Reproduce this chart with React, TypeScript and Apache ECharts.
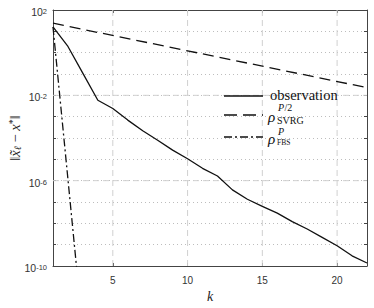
import React, { useEffect, useRef } from "react";
import * as echarts from "echarts";

// iteration index k
const kValues = [1, 2, 3, 4, 5, 6, 7, 8, 9, 10, 11, 12, 13, 14, 15, 16, 17, 18, 19, 20, 21, 22];
// observed error ||x~_l - x*||
const observation = [
  16, 1.95, 0.107, 5.9e-3, 2.4e-3, 6.9e-4, 2.2e-4, 7.9e-5, 2.7e-5, 1.07e-5, 3.8e-6,
  1.66e-6, 3.7e-7, 1.35e-7, 6.2e-8, 3.0e-8, 1.2e-8, 5.4e-9, 2.2e-9, 8.9e-10, 3.0e-10, 1.38e-10,
];
// rho_SVRG^{P/2} bound (straight on log scale)
const svrgK = [1, 22];
const svrgValues = [24, 0.023];
// rho_FBS^P bound
const fbsK = [1, 2, 3];
const fbsValues = [16, 1.15e-6, 8e-14];

const xTicks = [5, 10, 15, 20];
const yLabelExponents = [-10, -6, -2, 2];
const yMinExp = -10;
const yMaxExp = 2;
const kMin = 1;
const kMax = 22;

const toPairs = (ks: number[], vs: number[]) => ks.map((k, i) => [k, Math.log10(vs[i])]);

export default function App() {
  const ref = useRef<HTMLDivElement>(null);
  useEffect(() => {
    if (!ref.current) return;
    const chart = echarts.init(ref.current, undefined, { renderer: "svg" });
    const axisColor = "#444";
    const serif = "Liberation Serif";
    const majorGrid = { color: "#d0d0d0", width: 1, type: [6, 4] as number[] };
    const gridSeries: any[] = [
      ...xTicks.map((x) => ({
        type: "line",
        data: [[x, yMinExp], [x, yMaxExp]],
        symbol: "none",
        silent: true,
        z: 1,
        lineStyle: majorGrid,
      })),
      ...yLabelExponents
        .filter((e) => e > yMinExp && e < yMaxExp)
        .map((e) => ({
          type: "line",
          data: [[kMin, e], [kMax, e]],
          symbol: "none",
          silent: true,
          z: 1,
          lineStyle: majorGrid,
        })),
    ];
    const axisLine = { show: true, onZero: false, lineStyle: { color: axisColor, width: 1 } };
    const option: any = {
      animation: false,
      backgroundColor: "#fff",
      grid: { left: 53, right: 7, top: 10, bottom: 42, containLabel: false, outerBoundsMode: "none" },
      xAxis: [
        {
          type: "value",
          min: kMin,
          max: kMax,
          position: "bottom",
          axisLine,
          axisTick: { show: true, inside: true, length: 3, customValues: xTicks, lineStyle: { color: axisColor } },
          axisLabel: { customValues: xTicks, color: "#333", fontSize: 10, fontFamily: "Liberation Sans", margin: 9 },
          splitLine: { show: false },
          name: "k",
          nameLocation: "middle",
          nameGap: 13,
          nameTextStyle: { fontFamily: serif, fontStyle: "italic", fontSize: 14, color: "#222" },
        },
        {
          type: "value",
          min: kMin,
          max: kMax,
          position: "top",
          axisLine,
          axisTick: { show: true, inside: true, length: 3, customValues: xTicks, lineStyle: { color: axisColor } },
          axisLabel: { show: false },
          splitLine: { show: false },
        },
      ],
      yAxis: [
        {
          type: "value",
          min: yMinExp,
          max: yMaxExp,
          interval: 1,
          position: "left",
          axisLine,
          axisTick: { show: true, inside: true, length: 3, lineStyle: { color: axisColor } },
          axisLabel: {
            margin: 6,
            padding: [5, 0, 0, 0],
            formatter: (v: number) =>
              yLabelExponents.indexOf(v) >= 0 ? `{b|10}{s|${v}}` : "",
            rich: {
              b: { fontSize: 10.5, lineHeight: 10, fontFamily: "Liberation Sans", color: "#333", verticalAlign: "bottom", padding: [3, 0, 0, 0] },
              s: { fontSize: 7.5, lineHeight: 7, fontFamily: "Liberation Sans", color: "#333", verticalAlign: "top" },
            },
          },
          splitLine: { show: true, lineStyle: { color: "#bdbdbd", type: [1, 3], width: 1 } },
          name: "{n|‖}{i|x̃}{sb|ℓ}{n| − }{i|x}{sp|*}{n|‖}",
          nameLocation: "middle",
          nameRotate: 90,
          nameGap: 31,
          nameMoveOverlap: false,
          nameTextStyle: {
            rich: {
              n: { fontFamily: serif, fontSize: 14.5, lineHeight: 15, color: "#222", verticalAlign: "bottom" },
              i: { fontFamily: serif, fontStyle: "italic", fontSize: 14.5, lineHeight: 15, color: "#222", verticalAlign: "bottom" },
              sb: { fontFamily: serif, fontStyle: "italic", fontSize: 10, lineHeight: 10, color: "#222", verticalAlign: "bottom" },
              sp: { fontFamily: serif, fontSize: 10, lineHeight: 10, color: "#222", verticalAlign: "top" },
            },
          },
        },
        {
          type: "value",
          min: yMinExp,
          max: yMaxExp,
          interval: 1,
          position: "right",
          axisLine,
          axisTick: { show: true, inside: true, length: 3, lineStyle: { color: axisColor } },
          axisLabel: { show: false },
          splitLine: { show: false },
        },
      ],
      series: [
        ...gridSeries,
        {
          name: "observation",
          type: "line",
          data: toPairs(kValues, observation),
          showSymbol: false,
          symbol: "none",
          z: 4,
          lineStyle: { color: "#111", width: 1.3 },
        },
        {
          name: "svrg",
          type: "line",
          data: toPairs(svrgK, svrgValues),
          showSymbol: false,
          symbol: "none",
          z: 4,
          lineStyle: { color: "#111", width: 1.3, type: [11, 6] },
        },
        {
          name: "fbs",
          type: "line",
          data: toPairs(fbsK, fbsValues),
          showSymbol: false,
          symbol: "none",
          clip: true,
          z: 4,
          lineStyle: { color: "#111", width: 1.3, type: [8, 3, 2, 3] },
        },
      ],
      graphic: [
        // legend samples
        { type: "line", z: 10, shape: { x1: 224, y1: 96, x2: 263, y2: 96 }, style: { stroke: "#111", lineWidth: 1.3 } },
        { type: "line", z: 10, shape: { x1: 224, y1: 115, x2: 263, y2: 115 }, style: { stroke: "#111", lineWidth: 1.3, lineDash: [13, 6] } },
        { type: "line", z: 10, shape: { x1: 224, y1: 137, x2: 263, y2: 137 }, style: { stroke: "#111", lineWidth: 1.3, lineDash: [8, 3, 2, 3] } },
        { type: "text", z: 10, x: 270, y: 95, style: { text: "observation", fontFamily: serif, fontSize: 14.5, fill: "#111", verticalAlign: "middle" } },
        { type: "text", z: 10, x: 268, y: 117, style: { text: "ρ", fontFamily: serif, fontStyle: "italic", fontSize: 15, fill: "#111", verticalAlign: "middle" } },
        { type: "text", z: 10, x: 278, y: 107.5, style: { text: "P", fontFamily: serif, fontStyle: "italic", fontSize: 10, fill: "#111", verticalAlign: "middle" } },
        { type: "text", z: 10, x: 284.5, y: 107.5, style: { text: "/2", fontFamily: serif, fontSize: 10, fill: "#111", verticalAlign: "middle" } },
        { type: "text", z: 10, x: 277, y: 120, style: { text: "SVRG", fontFamily: serif, fontSize: 10, fill: "#111", verticalAlign: "middle" } },
        { type: "text", z: 10, x: 268, y: 139, style: { text: "ρ", fontFamily: serif, fontStyle: "italic", fontSize: 15, fill: "#111", verticalAlign: "middle" } },
        { type: "text", z: 10, x: 278, y: 131, style: { text: "P", fontFamily: serif, fontStyle: "italic", fontSize: 10, fill: "#111", verticalAlign: "middle" } },
        { type: "text", z: 10, x: 277, y: 142.5, style: { text: "FBS", fontFamily: serif, fontSize: 7.5, fill: "#111", verticalAlign: "middle" } },
      ],
    };
    chart.setOption(option);
    return () => chart.dispose();
  }, []);
  return <div ref={ref} style={{ width: 374, height: 308, position: "absolute", left: 0, top: 0 }} />;
}
